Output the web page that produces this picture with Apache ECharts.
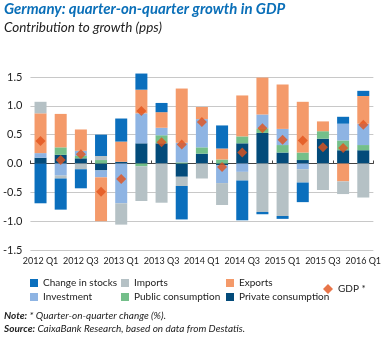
<!DOCTYPE html>
<html><head><meta charset="utf-8">
<script src="https://cdn.jsdelivr.net/npm/echarts@6/dist/echarts.min.js"></script>
<style>html,body{margin:0;padding:0;background:#fff}#c{width:384px;height:338px}</style>
</head><body><div id="c"></div>
<script>
var categories = ['2012 Q1','2012 Q2','2012 Q3','2012 Q4','2013 Q1','2013 Q2','2013 Q3','2013 Q4','2014 Q1','2014 Q2','2014 Q3','2014 Q4','2015 Q1','2015 Q2','2015 Q3','2015 Q4','2016 Q1'];
var privateCons = [0.10, 0.15, 0.09, -0.12, 0.03, 0.35, 0.35, -0.23, 0.17, -0.03, 0.35, 0.53, 0.19, 0.06, 0.43, 0.23, 0.23];
var publicCons = [0, 0.13, 0.04, 0.06, 0, -0.05, 0.14, 0.02, 0.11, 0.07, 0.12, 0.08, 0.13, 0.13, 0.13, 0.17, 0.09];
var investment = [0.08, -0.21, 0.09, -0.12, -0.69, 0.52, 0.13, 0.34, 0.49, -0.31, -0.145, 0.24, 0.28, -0.10, 0, 0.29, 0.37];
var exportsV = [0.69, 0.58, 0.37, -0.76, 0.35, 0.41, 0.27, 0.94, 0.21, 0.19, 0.71, 0.64, 0.77, 0.88, 0.17, -0.31, 0.48];
var importsV = [0.20, -0.05, -0.10, 0.07, -0.37, -0.60, -0.68, -0.16, -0.26, -0.38, -0.15, -0.84, -0.91, -0.23, -0.46, -0.22, -0.59];
var stocks = [-0.69, -0.54, -0.33, 0.37, 0.40, 0.28, 0.16, -0.58, 0, 0.40, -0.69, -0.04, -0.05, -0.34, 0, 0.12, 0.09];
var gdp = [0.39, 0.06, 0.16, -0.49, -0.27, 0.91, 0.37, 0.33, 0.72, -0.06, 0.19, 0.61, 0.41, 0.40, 0.28, 0.27, 0.67];

var FONT = 'Lato';
var C = {stocks:'#0b6fbd', imports:'#b5c1c5', exports:'#f49a6a', investment:'#8eb4e3', pub:'#74bf8a', priv:'#034b7a', gdp:'#e2531c'};

function bar(name, data, color) {
  return {name: name, type: 'bar', stack: 'g', data: data, barWidth: 12, clip: false,
    itemStyle: {color: color}, xAxisIndex: 0, yAxisIndex: 0};
}
var legText = {fontFamily: FONT, fontSize: 10, color: '#222'};
function leg(left, top, names) {
  return {orient: 'vertical', left: left, top: top, data: names, icon: 'rect',
    itemWidth: 8, itemHeight: 8, itemGap: 4, textStyle: legText, selectedMode: false, padding: 0};
}

var chart = echarts.init(document.getElementById('c'), null, {renderer: 'canvas'});
chart.setOption({
  animation: false,
  title: [
    {text: 'Germany: quarter-on-quarter growth in GDP', left: 4, top: 2, padding: 0,
     textStyle: {fontFamily: FONT, fontSize: 15, fontWeight: 'bold', fontStyle: 'italic', color: '#0a6fb8'}},
    {text: 'Contribution to growth (pps)', left: 4, top: 21, padding: 0,
     textStyle: {fontFamily: FONT, fontSize: 13.5, fontStyle: 'italic', fontWeight: 'normal', color: '#222'}},
    {text: '{b|Note:} * Quarter-on-quarter change (%).\n{b|Source:} CaixaBank Research, based on data from Destatis.',
     left: 4, top: 309, padding: 0,
     textStyle: {fontFamily: FONT, fontSize: 10, fontStyle: 'italic', fontWeight: 'normal', color: '#222', lineHeight: 13,
       rich: {b: {fontFamily: FONT, fontSize: 10, fontStyle: 'italic', fontWeight: 'bold', color: '#222', lineHeight: 13}}}}
  ],
  legend: [
    leg(30, 278, ['Change in stocks', 'Investment']),
    leg(121, 278, ['Imports', 'Public consumption']),
    leg(226, 278, ['Exports', 'Private consumption']),
    {left: 323, top: 284, data: ['GDP *'], icon: 'diamond', itemWidth: 10, itemHeight: 10,
     textStyle: legText, selectedMode: false, padding: 0}
  ],
  grid: {left: 28, right: 10, top: 77, bottom: 88, containLabel: false},
  xAxis: [
    {type: 'category', data: categories, position: 'bottom',
     axisLine: {onZero: true, lineStyle: {color: '#444', width: 1}},
     axisTick: {show: true, inside: true, length: 3, lineStyle: {color: '#444'}},
     axisLabel: {show: false}},
    {type: 'category', data: categories, position: 'bottom',
     axisLine: {show: false, onZero: false}, axisTick: {show: false},
     axisLabel: {interval: 0, margin: 7, hideOverlap: false,
       formatter: function (v, i) { return i % 2 === 0 ? v : ''; },
       fontFamily: FONT, fontSize: 9, color: '#222'}}
  ],
  yAxis: {type: 'value', min: -1.5, max: 1.5, interval: 0.5,
    axisLine: {show: false}, axisTick: {show: false},
    axisLabel: {margin: 8, fontFamily: FONT, fontSize: 11, color: '#222',
      formatter: function (v) { return v.toFixed(1); }},
    splitLine: {lineStyle: {color: '#c8c8c8', width: 1}}},
  series: [
    bar('Private consumption', privateCons, C.priv),
    bar('Public consumption', publicCons, C.pub),
    bar('Investment', investment, C.investment),
    bar('Exports', exportsV, C.exports),
    bar('Imports', importsV, C.imports),
    bar('Change in stocks', stocks, C.stocks),
    {name: 'GDP *', type: 'scatter', data: gdp, symbol: 'diamond', symbolSize: 10,
     itemStyle: {color: C.gdp}, z: 5}
  ]
});
</script></body></html>
